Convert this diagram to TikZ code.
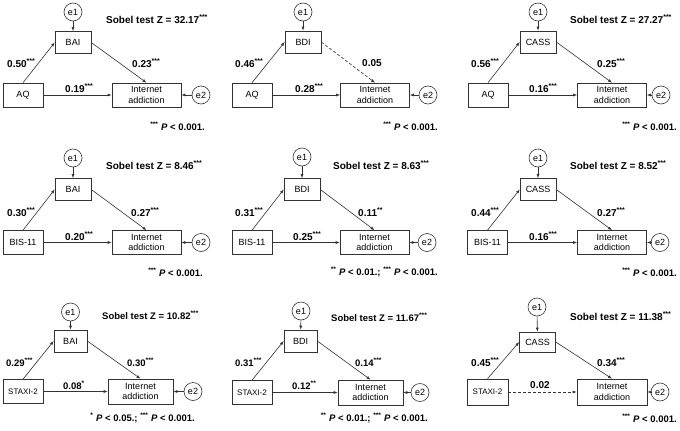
\documentclass[tikz,border=0pt]{standalone}
\usepackage{fontspec}
\setmainfont{Liberation Sans}
\usetikzlibrary{arrows.meta}
\newcommand{\st}[1]{\textsuperscript{#1}}
\begin{document}
\begin{tikzpicture}[x=1pt,y=-1pt,
  box/.style={draw=black!80, line width=0.6pt, rectangle, inner sep=0pt, font=\fontsize{9}{10.5}\selectfont, align=center},
  pbox/.style={box, minimum width=40pt, minimum height=24pt},
  sbox/.style={pbox, font=\fontsize{8}{10}\selectfont},
  mbox/.style={box, minimum width=36pt, minimum height=22pt},
  ibox/.style={box, minimum width=69pt, minimum height=24pt},
  err/.style={draw=black!80, line width=0.6pt, circle, minimum size=18pt, inner sep=0pt, font=\fontsize{9}{11}\selectfont},
  lab/.style={font=\bfseries\fontsize{10}{12}\selectfont, inner sep=0pt, anchor=west},
  labs/.style={lab, font=\bfseries\fontsize{9.5}{11}\selectfont},
  note/.style={font=\bfseries\fontsize{9.5}{11}\selectfont, inner sep=0pt, anchor=east},
  arr/.style={draw=black!80, line width=0.6pt, -{Latex[length=4pt,width=3pt]}},
  dsh/.style={arr, dash pattern=on 3pt off 2pt}
]
\path[use as bounding box, fill=white] (0,0) rectangle (680,431);

% ---------- Panel 1 ----------
\node[err] (e1a) at (73,12) {e1};
\node[mbox] (ma) at (73,42.5) {BAI};
\node[pbox] (pa) at (23,95) {AQ};
\node[ibox] (ia) at (146.5,95) {Internet\\addiction};
\node[err] (e2a) at (201,95) {e2};
\draw[arr] (e1a) -- (ma);
\draw[arr] (pa.north) -- (ma.west);
\draw[arr] (ma.east) -- (ia.north);
\draw[arr] (pa) -- (ia);
\draw[arr] (e2a) -- (ia);
\node[lab] (sa) at (106,19) {Sobel test Z = 32.17\st{***}};
\node[lab] (aa) at (7,63) {0.50\st{***}};
\node[lab] (ba) at (132,63) {0.23\st{***}};
\node[lab] (ca) at (65,88) {0.19\st{***}};
\node[note] (na) at (205,126) {\st{***} \textit{P} < 0.001.};

% ---------- Panel 2 ----------
\node[err] (e1b) at (303,12) {e1};
\node[mbox] (mb) at (303,42) {BDI};
\node[pbox] (pb) at (252,95) {AQ};
\node[ibox] (ib) at (375,95) {Internet\\addiction};
\node[err] (e2b) at (428,95) {e2};
\draw[arr] (e1b) -- (mb);
\draw[arr] (pb.north) -- (mb.west);
\draw[dsh] (mb.east) -- (ib.north);
\draw[arr] (pb) -- (ib);
\draw[arr] (e2b) -- (ib);
\node[lab] (ab) at (235,63) {0.46\st{***}};
\node[lab] (bb) at (362,63) {0.05};
\node[lab] (cb) at (295,88) {0.28\st{***}};
\node[note] (nb) at (438,126) {\st{***} \textit{P} < 0.001.};

% ---------- Panel 3 ----------
\node[err] (e1c) at (538,12) {e1};
\node[mbox] (mc) at (538,42) {CASS};
\node[pbox] (pc) at (488,95) {AQ};
\node[ibox] (ic) at (612,95) {Internet\\addiction};
\node[err] (e2c) at (661,95) {e2};
\draw[arr] (e1c) -- (mc);
\draw[arr] (pc.north) -- (mc.west);
\draw[arr] (mc.east) -- (ic.north);
\draw[arr] (pc) -- (ic);
\draw[arr] (e2c) -- (ic);
\node[lab] (sc) at (570,19) {Sobel test Z = 27.27\st{***}};
\node[lab] (ac) at (471,63) {0.56\st{***}};
\node[lab] (bc) at (597,63) {0.25\st{***}};
\node[lab] (cc) at (529,88) {0.16\st{***}};
\node[note] (nc) at (677,126) {\st{***} \textit{P} < 0.001.};

% ---------- Panel 4 ----------
\node[err] (e1d) at (73,158) {e1};
\node[mbox] (md) at (73,189.5) {BAI};
\node[pbox] (pd) at (23,242.5) {BIS-11};
\node[ibox] (id) at (146.5,242.5) {Internet\\addiction};
\node[err] (e2d) at (201,242.5) {e2};
\draw[arr] (e1d) -- (md);
\draw[arr] (pd.north) -- (md.west);
\draw[arr] (md.east) -- (id.north);
\draw[arr] (pd) -- (id);
\draw[arr] (e2d) -- (id);
\node[lab] (sd) at (106,165) {Sobel test Z = 8.46\st{***}};
\node[lab] (ad) at (7,212) {0.30\st{***}};
\node[lab] (bd) at (131,212) {0.27\st{***}};
\node[lab] (cd) at (65,236) {0.20\st{***}};
\node[note] (nd) at (203,272) {\st{***} \textit{P} < 0.001.};

% ---------- Panel 5 ----------
\node[err] (e1e) at (302,157) {e1};
\node[mbox] (me) at (302,189.5) {BDI};
\node[pbox] (pe) at (252,242.5) {BIS-11};
\node[ibox] (ie) at (374.5,242.5) {Internet\\addiction};
\node[err] (e2e) at (427,242.5) {e2};
\draw[arr] (e1e) -- (me);
\draw[arr] (pe.north) -- (me.west);
\draw[arr] (me.east) -- (ie.north);
\draw[arr] (pe) -- (ie);
\draw[arr] (e2e) -- (ie);
\node[lab] (se) at (333,165) {Sobel test Z = 8.63\st{***}};
\node[lab] (ae) at (235,212) {0.31\st{***}};
\node[lab] (be) at (358,212) {0.11\st{**}};
\node[lab] (ce) at (293,236) {0.25\st{***}};
\node[note] (ne) at (438,272) {\st{**} \textit{P} < 0.01.; \st{***} \textit{P} < 0.001.};

% ---------- Panel 6 ----------
\node[err] (e1f) at (538,158) {e1};
\node[mbox] (mf) at (538,189.5) {CASS};
\node[pbox] (pf) at (487.5,242.5) {BIS-11};
\node[ibox] (if) at (612,242.5) {Internet\\addiction};
\node[err] (e2f) at (660,242.5) {e2};
\draw[arr] (e1f) -- (mf);
\draw[arr] (pf.north) -- (mf.west);
\draw[arr] (mf.east) -- (if.north);
\draw[arr] (pf) -- (if);
\draw[arr] (e2f) -- (if);
\node[lab] (sf) at (570,165) {Sobel test Z = 8.52\st{***}};
\node[lab] (af) at (471,212) {0.44\st{***}};
\node[lab] (bf) at (597,212) {0.27\st{***}};
\node[lab] (cf) at (529,236) {0.16\st{***}};
\node[note] (nf) at (677,272) {\st{***} \textit{P} < 0.001.};

% ---------- Panel 7 ----------
\node[err] (e1g) at (70.5,312) {e1};
\node[mbox, minimum width=33pt] (mg) at (70.5,341) {BAI};
\node[sbox] (pg) at (23,391.5) {STAXI-2};
\node[ibox, minimum width=65pt, minimum height=25pt] (ig) at (140.5,391.5) {Internet\\addiction};
\node[err] (e2g) at (193,391.5) {e2};
\draw[arr] (e1g) -- (mg);
\draw[arr] (pg.north) -- (mg.west);
\draw[arr] (mg.east) -- (ig.north);
\draw[arr] (pg) -- (ig);
\draw[arr] (e2g) -- (ig);
\node[labs] (sg) at (102,315) {Sobel test Z = 10.82\st{***}};
\node[labs] (ag) at (6,362) {0.29\st{***}};
\node[labs] (bg) at (127,362) {0.30\st{***}};
\node[labs] (cg) at (63,385) {0.08\st{*}};
\node[note] (ng) at (195,418) {\st{*} \textit{P} < 0.05.; \st{***} \textit{P} < 0.001.};

% ---------- Panel 8 ----------
\node[err] (e1h) at (301,311) {e1};
\node[mbox, minimum width=33pt] (mh) at (300.5,341) {BDI};
\node[sbox] (ph) at (252,392.5) {STAXI-2};
\node[ibox, minimum width=65pt, minimum height=25pt] (ih) at (370.5,392.5) {Internet\\addiction};
\node[err] (e2h) at (420,392.5) {e2};
\draw[arr] (e1h) -- (mh);
\draw[arr] (ph.north) -- (mh.west);
\draw[arr] (mh.east) -- (ih.north);
\draw[arr] (ph) -- (ih);
\draw[arr] (e2h) -- (ih);
\node[labs] (sh) at (331,317) {Sobel test Z = 11.67\st{***}};
\node[labs] (ah) at (235,362) {0.31\st{***}};
\node[labs] (bh) at (355,362) {0.14\st{***}};
\node[labs] (ch) at (292,385) {0.12\st{**}};
\node[note] (nh) at (428,418) {\st{**} \textit{P} < 0.01.; \st{***} \textit{P} < 0.001.};

% ---------- Panel 9 ----------
\node[err] (e1i) at (537,307) {e1};
\node[mbox, minimum height=20pt] (mi) at (537.5,342) {CASS};
\node[sbox, minimum width=41pt, minimum height=26pt] (pi) at (487.5,392) {STAXI-2};
\node[ibox, minimum width=70pt, minimum height=26pt] (ii) at (612,392) {Internet\\addiction};
\node[err] (e2i) at (660,392) {e2};
\draw[arr] (e1i) -- (mi);
\draw[arr] (pi.north) -- (mi.west);
\draw[arr] (mi.east) -- (ii.north);
\draw[dsh] (pi) -- (ii);
\draw[arr] (e2i) -- (ii);
\node[lab] (si) at (570,316) {Sobel test Z = 11.38\st{***}};
\node[lab] (ai) at (471,362) {0.45\st{***}};
\node[lab] (bi) at (597,362) {0.34\st{***}};
\node[lab] (ci) at (530,385) {0.02};
\node[note] (ni) at (677,418) {\st{***} \textit{P} < 0.001.};
\end{tikzpicture}
\end{document}
